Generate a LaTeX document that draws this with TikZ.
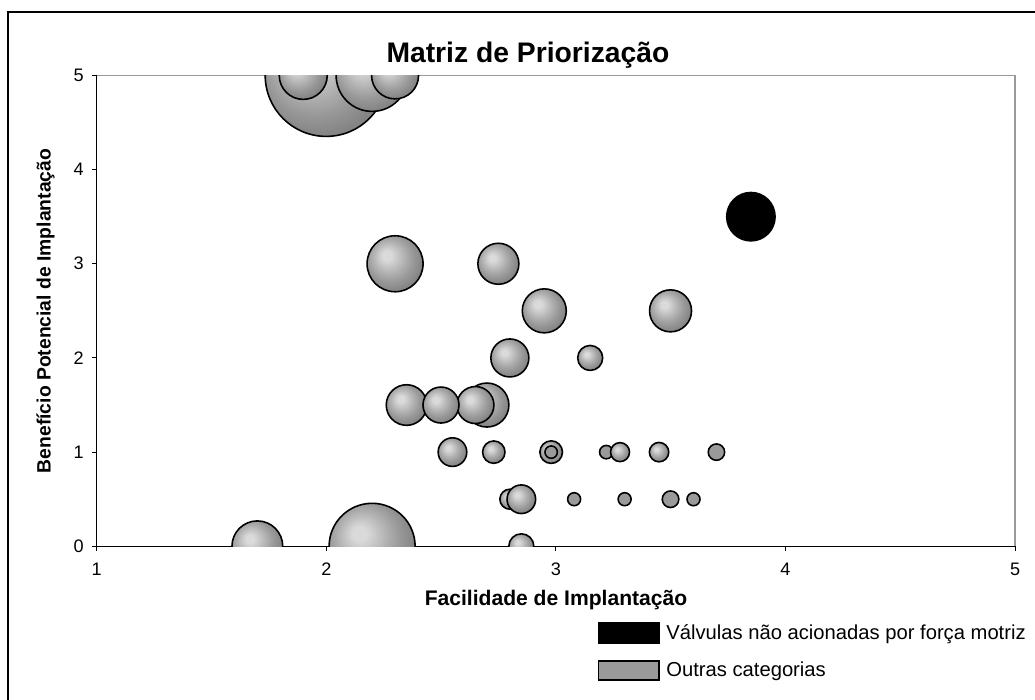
\documentclass[tikz,border=0pt]{standalone}
\usepackage{fontspec}
\setmainfont{Liberation Sans}
\definecolor{bubA}{HTML}{DADADA}
\definecolor{bubB}{HTML}{C6C6C6}
\definecolor{bubC}{HTML}{AEAEAE}
\definecolor{bubD}{HTML}{989898}
\definecolor{bubE}{HTML}{848484}
\definecolor{bubF}{HTML}{9A9A9A}
\pgfdeclareradialshading{bubble}{\pgfqpoint{-8bp}{8bp}}{color(0bp)=(bubA); color(4bp)=(bubA); color(9bp)=(bubB); color(15bp)=(bubC); color(21bp)=(bubD); color(28bp)=(bubE); color(50bp)=(bubE)}
\pgfdeclareradialshading{flatbub}{\pgfpointorigin}{color(0bp)=(bubF); color(50bp)=(bubF)}

\begin{document}
\begin{tikzpicture}[x=0.02cm,y=-0.02cm,
  ticklab/.style={font=\fontsize{10.3}{12}\selectfont, inner sep=0pt},
  axtitle/.style={font=\fontsize{11}{13}\selectfont\bfseries, inner sep=0pt, anchor=base},
  legtext/.style={font=\fontsize{11.5}{14}\selectfont, inner sep=0pt, anchor=base west}]
\useasboundingbox (0,0) rectangle (1035,700);
\draw[line width=0.6pt] (8,12) rectangle (1045,710);
\node[font=\fontsize{16.1}{19}\selectfont\bfseries, anchor=base, inner sep=0pt] (title) at (528,62.5) {Matriz de Priorização};
\draw[gray!80, line width=0.85pt] (96.7,75.3) -- (1015,75.3) -- (1015,546.3);
\draw[line width=0.6pt] (96.7,75.3) -- (96.7,546.3) -- (1015,546.3);
\foreach \k in {0,...,5}{
  \draw[line width=0.6pt] (92.3,546.3-\k*94.2) -- (96.7,546.3-\k*94.2);
  \node[ticklab, anchor=east] (ly\k) at (84,546.3-\k*94.2) {\k};
}
\foreach \k in {1,...,5}{
  \draw[line width=0.6pt] (96.7+\k*229.6-229.6,546.3) -- (96.7+\k*229.6-229.6,550.8);
  \node[ticklab, anchor=base] (lx\k) at (96.7+\k*229.6-229.6,575.7) {\k};
}
\node[axtitle, font=\fontsize{12}{14}\selectfont\bfseries] (xtitle) at (556,605.5) {Facilidade de Implantação};
\node[axtitle, rotate=90] (ytitle) at (50.5,311) {Benefício Potencial de Implantação};
\begin{scope}
  \clip (96.7,75.3) rectangle (1015,546.3);
  \begin{scope}[shift={(-132.9,546.3)}, x=4.592cm, y=1.884cm]
    \foreach \bx/\by/\br/\bs in {2/5/61/bubble, 2.2/0/43/bubble, 2.2/5/36/bubble, 2.3/3/28/bubble,
      1.7/0/25.4/bubble, 1.9/5/24/bubble, 2.3/5/23.5/bubble, 2.95/2.5/22/bubble, 2.7/1.5/22/bubble,
      3.5/2.5/21/bubble, 2.75/3/20.5/bubble, 2.35/1.5/20.3/bubble, 2.8/2/19/bubble, 2.65/1.5/18.5/bubble,
      2.5/1.5/18/bubble, 2.55/1/14.3/bubble, 2.8/0.5/10/bubble, 2.85/0.5/14.3/bubble, 3.15/2/12.5/bubble,
      2.85/0/12.5/bubble, 2.73/1/11.2/bubble, 2.98/1/11.3/bubble, 3.45/1/9.7/bubble, 3.22/1/6.7/flatbub,
      3.28/1/9.5/bubble, 3.5/0.5/8.3/flatbub, 3.7/1/8.2/flatbub, 3.08/0.5/6.5/flatbub, 3.3/0.5/6.5/flatbub,
      3.6/0.5/6.5/flatbub, 2.98/1/6.2/flatbub}
      \shade[shading=\bs, draw=black, line width=0.9pt] (\bx,\by) circle[radius=\br*0.02cm];
    \fill[black] (3.85,3.5) circle[radius=25*0.02cm];
  \end{scope}
\end{scope}
\draw[fill=black, line width=0.6pt] (598.3,622.7) rectangle (659,643.3);
\draw[fill=bubF, line width=0.6pt] (598.3,661) rectangle (659,680);
\node[legtext] (legA) at (666,639.3) {Válvulas não acionadas por força motriz};
\node[legtext] (legB) at (666,676) {Outras categorias};
\end{tikzpicture}
\end{document}
